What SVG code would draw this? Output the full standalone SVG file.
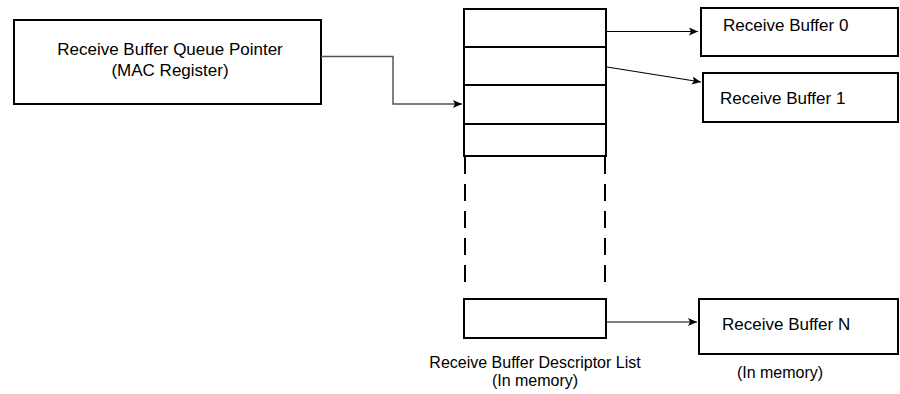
<svg xmlns="http://www.w3.org/2000/svg" width="900" height="394" viewBox="0 0 900 394">
<defs>
<style>
.box{fill:#fff;stroke:#000;stroke-width:2}
.t{font-family:"Liberation Sans",Arial,sans-serif;font-size:17px;fill:#000}
.s{font-size:16px}
.c{fill:none;stroke:#000;stroke-width:1.2}
.g{fill:none;stroke:#555;stroke-width:1.5}
.d{fill:none;stroke:#000;stroke-width:2;stroke-dasharray:17 10}
</style>
<marker id="ah" markerWidth="10" markerHeight="8" refX="9" refY="4" orient="auto" markerUnits="userSpaceOnUse">
<path d="M0,0 L9,4 L0,8 L2,4 Z" fill="#000"/>
</marker>
</defs>
<rect width="900" height="394" fill="#fff"/>
<g id="qptr">
<rect class="box" x="14" y="20" width="307" height="84"/>
<text class="t" x="170" y="55" text-anchor="middle">Receive Buffer Queue Pointer</text>
<text class="t" x="170" y="76" text-anchor="middle">(MAC Register)</text>
</g>
<g id="desclist">
<rect class="box" x="464" y="9" width="142" height="147"/>
<line x1="464" y1="47" x2="606" y2="47" stroke="#000" stroke-width="2"/>
<line x1="464" y1="85" x2="606" y2="85" stroke="#000" stroke-width="2"/>
<line x1="464" y1="124" x2="606" y2="124" stroke="#000" stroke-width="2"/>
<line class="d" x1="465" y1="157" x2="465" y2="290"/>
<line class="d" x1="605" y1="157" x2="605" y2="290"/>
<rect class="box" x="464" y="299" width="142" height="39"/>
<text class="t s" x="535" y="368" text-anchor="middle">Receive Buffer Descriptor List</text>
<text class="t s" x="535" y="386" text-anchor="middle">(In memory)</text>
</g>
<g id="buf0">
<rect class="box" x="701" y="8" width="197" height="48"/>
<text class="t" x="723" y="31">Receive Buffer 0</text>
</g>
<g id="buf1">
<rect class="box" x="703" y="73" width="195" height="49"/>
<text class="t" x="720" y="104">Receive Buffer 1</text>
</g>
<g id="bufN">
<rect class="box" x="699" y="299" width="199" height="55"/>
<text class="t" x="722" y="330">Receive Buffer N</text>
<text class="t s" x="780" y="378" text-anchor="middle">(In memory)</text>
</g>
<g id="connectors">
<polyline class="g" points="321,56.5 393,56.5 393,104 462,104" marker-end="url(#ah)"/>
<line class="c" x1="607" y1="31.5" x2="698" y2="31.5" marker-end="url(#ah)"/>
<line class="c" x1="607" y1="67" x2="701" y2="82" marker-end="url(#ah)"/>
<line class="c" x1="607" y1="322" x2="697" y2="322" marker-end="url(#ah)"/>
</g>
</svg>
